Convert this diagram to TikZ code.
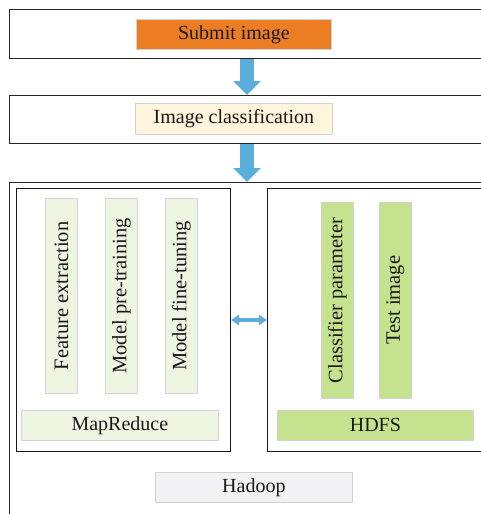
\documentclass[tikz,border=0pt]{standalone}
\usepackage{fontspec}
\setmainfont{Liberation Serif}
\usetikzlibrary{arrows.meta}
\definecolor{orangeF}{HTML}{ED7D22}
\definecolor{creamF}{HTML}{FFF5DC}
\definecolor{lgreenF}{HTML}{EEF6E2}
\definecolor{greenF}{HTML}{C5E38F}
\definecolor{grayF}{HTML}{F2F2F4}
\definecolor{arrowB}{HTML}{5BAEDB}
\definecolor{edgeG}{HTML}{D2D2D2}
\begin{document}
\begin{tikzpicture}[x=1pt,y=-1pt,
  frame/.style={draw=black!85,line width=1.3pt,anchor=north west,inner sep=0pt},
  sub/.style={draw=black!90,line width=1pt,anchor=north west,inner sep=0pt},
  lab/.style={draw=edgeG,line width=0.8pt,anchor=north west,inner sep=0pt,font=\fontsize{20}{22}\selectfont,text=black!90},
  bar/.style={lab,font=\fontsize{20.5}{22}\selectfont},
  bigarrow/.style={draw=arrowB,line width=14pt,-{Triangle[width=27pt,length=14pt]}},
  dblarrow/.style={draw=arrowB,line width=3.5pt,{Triangle[width=10pt,length=8pt]}-{Triangle[width=10pt,length=8pt]}}
]
\useasboundingbox (0,0) rectangle (481,514);
\clip (0,0) rectangle (481,514);
% outer frames
\node[frame,minimum width=500pt,minimum height=49pt] (top) at (9,9) {};
\node[frame,minimum width=500pt,minimum height=48pt] (mid) at (9,95) {};
\node[frame,minimum width=500pt,minimum height=360pt] (hadoop) at (9,182) {};
% labels
\node[lab,fill=orangeF,minimum width=195pt,minimum height=30pt] (submit) at (136,19) {Submit image};
\node[lab,fill=creamF,minimum width=197pt,minimum height=31pt] (cls) at (135,103) {Image classification};
% arrows
\draw[bigarrow] (top.south -| 247,0) -- (mid.north -| 247,0);
\draw[bigarrow] (mid.south -| 247,0) -- (hadoop.north -| 247,0);
% MapReduce box
\node[sub,minimum width=214pt,minimum height=263pt] (mr) at (16,188) {};
\node[bar,fill=lgreenF,minimum width=32pt,minimum height=195pt] (fe) at (45,198) {\rotatebox{90}{Feature extraction}};
\node[bar,fill=lgreenF,minimum width=32pt,minimum height=195pt] (mp) at (105,198) {\rotatebox{90}{Model pre-training}};
\node[bar,fill=lgreenF,minimum width=32pt,minimum height=195pt] (mf) at (165,198) {\rotatebox{90}{Model fine-tuning}};
\node[lab,fill=lgreenF,minimum width=197pt,minimum height=30pt] (mrl) at (21,410) {MapReduce};
% HDFS box
\node[sub,minimum width=240pt,minimum height=263pt] (hdfs) at (267,188) {};
\node[bar,fill=greenF,minimum width=32pt,minimum height=196pt] (cp) at (321,202) {\rotatebox{90}{Classifier parameter}};
\node[bar,fill=greenF,minimum width=32pt,minimum height=196pt] (ti) at (379,202) {\rotatebox{90}{Test image}};
\node[lab,fill=greenF,minimum width=196pt,minimum height=30pt] (hdl) at (277,410) {HDFS};
% double arrow
\draw[dblarrow] (mr.east |- 0,320) -- (hdfs.west |- 0,320);
% Hadoop label
\node[lab,fill=grayF,minimum width=197pt,minimum height=30pt] (hl) at (155,472) {Hadoop};
\end{tikzpicture}
\end{document}
